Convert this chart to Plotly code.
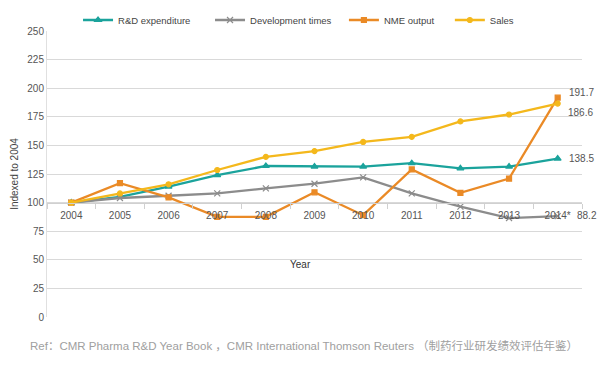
import plotly.graph_objects as go

years = ["2004", "2005", "2006", "2007", "2008", "2009", "2010", "2011", "2012", "2013", "2014*"]
rd_expenditure = [100, 105, 114, 124, 132, 131.5, 131.5, 134.5, 130, 131.5, 138.5]
development_times = [100, 104, 106, 108, 112.5, 116.5, 122, 108, 96.5, 86.5, 88.2]
nme_output = [100, 117, 104.5, 87.5, 87.5, 109, 89, 129, 108.5, 121, 191.7]
sales = [100, 108, 116, 128.5, 140, 145, 153, 157.5, 171, 177, 186.6]

end_labels = [("191.7", 191.7, 9, 5), ("186.6", 186.6, 8, -9), ("138.5", 138.5, 9, 0), ("88.2", 88.2, 17, 1)]

fig = go.Figure()
series = [
    ("R&D expenditure", rd_expenditure, "#1ba39c", "triangle-up", 6, "legend", 0.058),
    ("Development times", development_times, "#8c8c8c", "x-thin-open", 6, "legend2", 0.3047),
    ("NME output", nme_output, "#ea8a26", "square", 5, "legend3", 0.555),
    ("Sales", sales, "#f4b81c", "circle", 5, "legend4", 0.753),
]
legend_layouts = {}
for name, vals, color, sym, sz, lg, lx in series:
    fig.add_trace(go.Scatter(
        x=years, y=vals, name=name, mode="lines+markers", legend=lg,
        line=dict(color=color, width=2.3),
        marker=dict(symbol=sym, size=sz, color=color, line=dict(color=color, width=1.2)),
    ))
    legend_layouts[lg] = dict(orientation="h", x=lx, xanchor="left", y=1.0385, yanchor="middle",
                              font=dict(size=9.5, color="#444444"), itemwidth=30,
                              bgcolor="rgba(0,0,0,0)")

for txt, val, dx, dy in end_labels:
    fig.add_annotation(x=years[-1], y=val, text=txt, showarrow=False,
                       xanchor="left", xshift=dx, yshift=dy,
                       font=dict(size=10, color="#555555"))

fig.add_annotation(x=0.473, y=0.182, xref="paper", yref="paper", text="Year",
                   showarrow=False, yanchor="middle",
                   font=dict(size=10, color="#333333"))

fig.add_annotation(x=-0.0355, y=-0.098, xref="paper", yref="paper", xanchor="left",
                   yanchor="middle",
                   text="Ref\uff1aCMR Pharma R&D Year Book \uff0cCMR International Thomson Reuters \uff08制药行业研发绩效评估年鉴\uff09",
                   showarrow=False, font=dict(size=11.5, color="#a0a0a0",
                                              family="Liberation Sans, Noto Sans CJK SC"))

fig.update_layout(
    width=607, height=366,
    margin=dict(l=47, r=25, t=31, b=49, autoexpand=False),
    plot_bgcolor="white", paper_bgcolor="white",
    font=dict(family="Liberation Sans, Arial, Noto Sans CJK SC", size=10, color="#555555"),
    xaxis=dict(type="category", range=[-0.5, 10.5], anchor="free", position=0.4, showgrid=False,
               showline=True, linecolor="#d0d0d0", ticks="outside", tickson="boundaries",
               ticklen=5, tickcolor="#d0d0d0", tickfont=dict(size=10, color="#555555"),
               ticklabelstandoff=3, automargin=False),
    yaxis=dict(range=[0, 250], dtick=25, showgrid=True, gridcolor="#d9d9d9",
               zeroline=False, showline=True, linecolor="#e0e0e0",
               tickfont=dict(size=10, color="#555555"), automargin=False,
               title=dict(text="Indexed to 2004", font=dict(size=10, color="#444444"), standoff=6)),
    showlegend=True,
    **legend_layouts,
)

fig.write_html("out.html", config={"displayModeBar": False},
               post_script="document.body.style.margin='0px';")
